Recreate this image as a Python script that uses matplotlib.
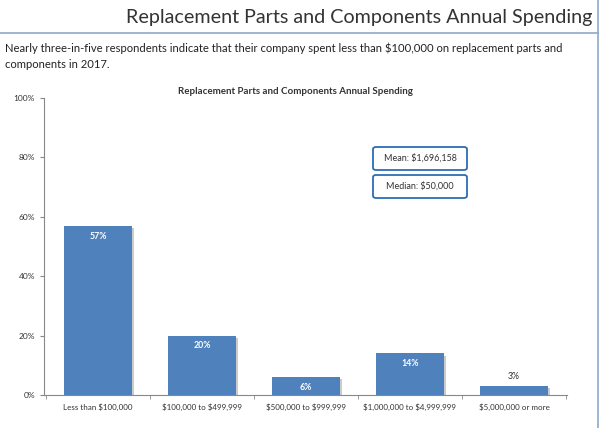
import matplotlib
matplotlib.use("Agg")
import matplotlib.pyplot as plt
from matplotlib.patches import FancyBboxPatch
import matplotlib.patheffects as pe

categories = ["Less than $100,000", "$100,000 to $499,999", "$500,000 to $999,999",
              "$1,000,000 to $4,999,999", "$5,000,000 or more"]
values = [57, 20, 6, 14, 3]
yticks = [0, 20, 40, 60, 80, 100]
ytick_labels = ["0%", "20%", "40%", "60%", "80%", "100%"]
title = "Replacement Parts and Components Annual Spending"
subtitle = ("Nearly three-in-five respondents indicate that their company spent less than $100,000 on replacement parts and\n"
            "components in 2017.")
chart_title = "Replacement Parts and Components Annual Spending"
stats = ["Mean: $1,696,158", "Median: $50,000"]

plt.rcParams['font.family'] = ['Lato', 'DejaVu Sans']
plt.rcParams['text.parse_math'] = False

W, H = 600, 428
fig = plt.figure(figsize=(6, 4.28), dpi=100)
fig.patch.set_facecolor("white")

# frame lines
fig.add_artist(plt.Line2D([0, 598/W], [1-33/H, 1-33/H], color="#8EA9C8", lw=1.2))
fig.add_artist(plt.Line2D([598/W, 598/W], [0, 1], color="#8EA9C8", lw=1.2))

fig.text(592/W, 1-18/H, title, ha="right", va="center", fontsize=14.2, color="#333333")
fig.text(5/W, 1-56/H, subtitle, ha="left", va="center", fontsize=8.1, color="#222222", linespacing=1.5)
fig.text(295/W, 1-92/H, chart_title, ha="center", va="center", fontsize=7, fontweight="bold", color="#333333")

ax = fig.add_axes([44/W, 1-395/H, (567-44)/W, (395-98)/H])
x = list(range(len(categories)))
bars = ax.bar(x, values, width=0.66, color="#4F81BD", zorder=3,
              path_effects=[pe.SimplePatchShadow(offset=(1.5, -1.5), shadow_rgbFace="#999999", alpha=0.5), pe.Normal()])
ax.set_xlim(-0.52, len(categories) - 0.49)
ax.set_ylim(0, 100)
ax.set_yticks(yticks)
ax.set_yticklabels(ytick_labels)
ax.set_xticks(x)
ax.set_xticklabels(categories)
ax.set_xticks([i + 0.5 for i in range(-1, len(categories))], minor=True)
ax.tick_params(axis="x", which="major", length=0, labelsize=5.8, colors="#333333", pad=6)
ax.tick_params(axis="x", which="minor", length=3, color="#888888")
ax.tick_params(axis="y", length=3, color="#888888", labelsize=6, labelcolor="#333333")
for s in ["top", "right"]:
    ax.spines[s].set_visible(False)
for s in ["left", "bottom"]:
    ax.spines[s].set_color("#888888")
    ax.spines[s].set_linewidth(0.8)

for i, v in enumerate(values):
    if v >= 5:
        ax.text(i, v - 3.5, f"{v}%", ha="center", va="center", fontsize=6.3, color="white", fontweight="bold")
    else:
        ax.text(i, v + 3.2, f"{v}%", ha="center", va="center", fontsize=6.3, color="#333333")

# stat boxes
for j, s in enumerate(stats):
    y0 = 147 + j * 28
    box = FancyBboxPatch((373/W, 1-(y0+23)/H), 94/W, 23/H, boxstyle="round,pad=0,rounding_size=0.005",
                         transform=fig.transFigure, facecolor="white", edgecolor="#2E6DB4", lw=1.3)
    fig.add_artist(box)
    fig.text(420/W, 1-(y0+11.5)/H, s, ha="center", va="center", fontsize=6.5, color="#333333")

fig.savefig("out.png", dpi=100)
